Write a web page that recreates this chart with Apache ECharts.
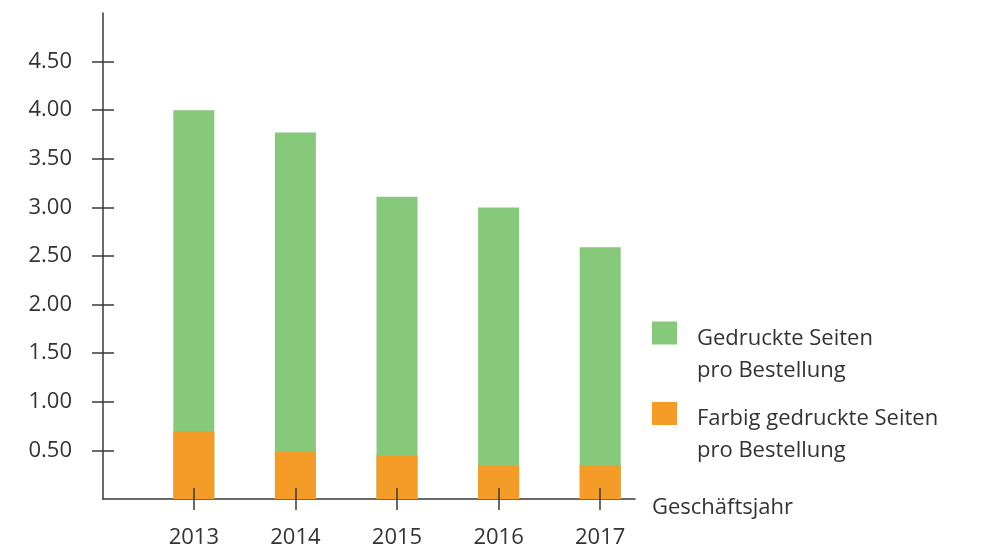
<!DOCTYPE html>
<html>
<head>
<meta charset="utf-8">
<script src="https://cdn.jsdelivr.net/npm/echarts@6/dist/echarts.min.js"></script>
<style>
html,body{margin:0;padding:0;background:#fff;}
#chart{width:995px;height:549px;}
</style>
</head>
<body>
<div id="chart"></div>
<script>
const years = ['2013', '2014', '2015', '2016', '2017'];
const printedPages = [4.00, 3.77, 3.11, 3.00, 2.59];
const colorPages = [0.70, 0.49, 0.45, 0.35, 0.35];
const yTicks = [0.5, 1.0, 1.5, 2.0, 2.5, 3.0, 3.5, 4.0, 4.5];
const seriesNames = ['Gedruckte Seiten\npro Bestellung', 'Farbig gedruckte Seiten\npro Bestellung'];
const xAxisName = 'Geschäftsjahr';

const FONT = '"Open Sans", Lato, sans-serif';
const AX = '#3a3a3a';
const chart = echarts.init(document.getElementById('chart'), null, {renderer: 'canvas'});
chart.setOption({
  animation: false,
  textStyle: {fontFamily: FONT},
  grid: [
    {left: 103, top: 13, width: 532, height: 486},
    {left: 143, top: 13, width: 508, height: 486}
  ],
  legend: {
    orient: 'vertical',
    left: 652,
    top: 296,
    padding: 0,
    itemGap: -5,
    itemWidth: 25,
    itemHeight: 23,
    icon: 'rect',
    data: seriesNames,
    formatter: function (name) {
      return '{s| }\n' + name.split('\n').map(function (l) { return '{a|' + l + '}'; }).join('\n');
    },
    textStyle: {
      fontFamily: FONT, fontSize: 22, color: '#333',
      rich: {
        s: {fontSize: 10, lineHeight: 43},
        a: {fontFamily: FONT, fontSize: 22, color: '#333', lineHeight: 32, padding: [0, 0, 0, 15]}
      }
    }
  },
  xAxis: [
    {
      gridIndex: 0, type: 'category', data: years, position: 'bottom',
      axisLine: {show: true, lineStyle: {color: AX, width: 1.5}},
      axisTick: {show: false}, axisLabel: {show: false},
      name: xAxisName, nameLocation: 'end', nameGap: 17,
      nameTextStyle: {fontFamily: FONT, fontSize: 22, color: '#333', verticalAlign: 'top', lineHeight: 18}
    },
    {
      gridIndex: 1, type: 'category', data: years, z: 10, position: 'bottom',
      axisLine: {show: false},
      axisTick: {show: true, alignWithLabel: true, length: 11, lineStyle: {color: AX, width: 1.5}},
      axisLabel: {show: true, margin: 28, fontFamily: FONT, fontSize: 22, color: '#333'}
    },
    {
      gridIndex: 1, type: 'category', data: years, z: 10, position: 'bottom',
      axisLine: {show: false},
      axisTick: {show: true, inside: true, alignWithLabel: true, length: 11, lineStyle: {color: AX, width: 1.5}},
      axisLabel: {show: false}
    }
  ],
  yAxis: [
    {
      gridIndex: 0, type: 'value', min: 0, max: 5, interval: 0.5, position: 'left',
      axisLine: {show: true, lineStyle: {color: AX, width: 1.5}},
      axisTick: {show: true, length: 11, customValues: yTicks, lineStyle: {color: AX, width: 1.5}},
      axisLabel: {show: true, customValues: yTicks, margin: 31, fontFamily: FONT, fontSize: 22, color: '#333',
        formatter: v => v.toFixed(2)},
      splitLine: {show: false}
    },
    {
      gridIndex: 0, type: 'value', min: 0, max: 5, interval: 0.5, position: 'left',
      axisLine: {show: false},
      axisTick: {show: true, inside: true, length: 11, customValues: yTicks, lineStyle: {color: AX, width: 1.5}},
      axisLabel: {show: false}, splitLine: {show: false}
    },
    {
      gridIndex: 1, type: 'value', min: 0, max: 5, show: false, splitLine: {show: false}
    }
  ],
  series: [
    {
      name: seriesNames[0], type: 'bar', xAxisIndex: 1, yAxisIndex: 2,
      data: printedPages, barWidth: 41, barGap: '-100%',
      itemStyle: {color: '#86C97B'}
    },
    {
      name: seriesNames[1], type: 'bar', xAxisIndex: 1, yAxisIndex: 2,
      data: colorPages, barWidth: 41, barGap: '-100%',
      itemStyle: {color: '#F59C28'}
    }
  ]
});
</script>
</body>
</html>
